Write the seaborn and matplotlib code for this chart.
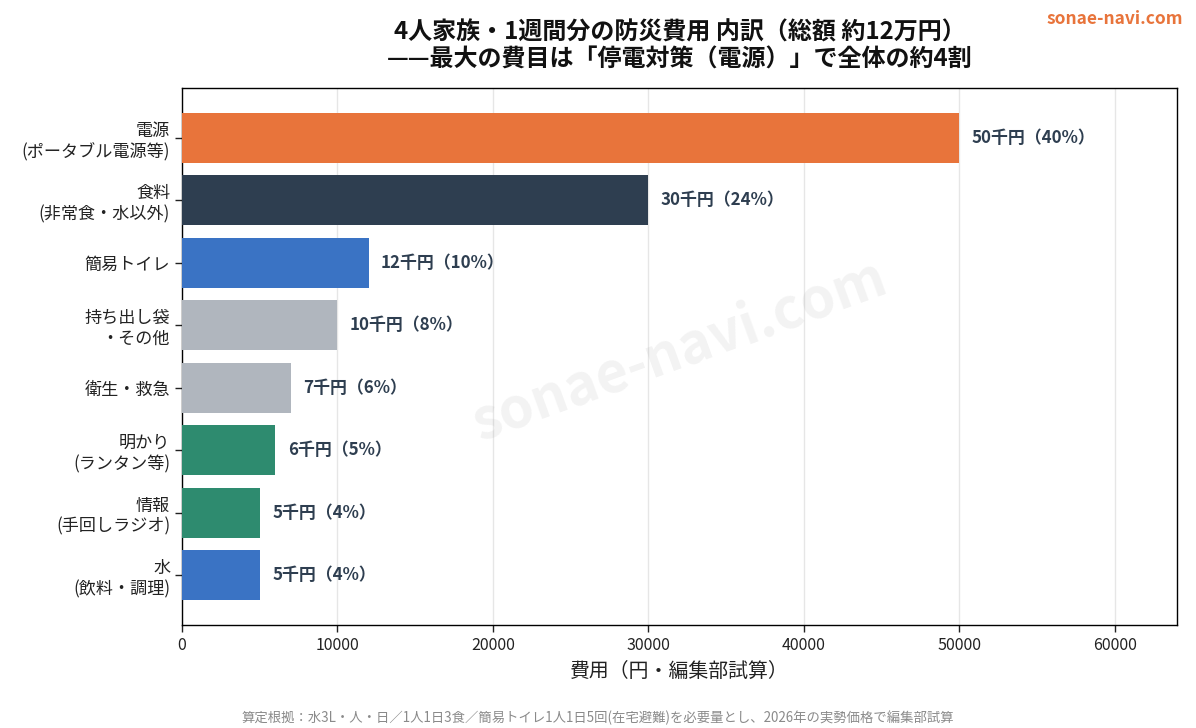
import matplotlib
matplotlib.use("Agg")
import matplotlib.pyplot as plt
import seaborn as sns
import pandas as pd

categories = ["電源\n(ポータブル電源等)", "食料\n(非常食・水以外)", "簡易トイレ", "持ち出し袋\n・その他",
              "衛生・救急", "明かり\n(ランタン等)", "情報\n(手回しラジオ)", "水\n(飲料・調理)"]
values = [50000, 30000, 12000, 10000, 7000, 6000, 5000, 5000]
labels = ["50千円（40%）", "30千円（24%）", "12千円（10%）", "10千円（8%）",
          "7千円（6%）", "6千円（5%）", "5千円（4%）", "5千円（4%）"]
colors = ["#E8743B", "#2E3E50", "#3A73C4", "#B0B6BE", "#B0B6BE", "#2E8B6F", "#2E8B6F", "#3A73C4"]

sns.set_theme(style="white")
plt.rcParams['font.family'] = ['Noto Sans CJK JP', 'DejaVu Sans']

df = pd.DataFrame({"cat": categories, "val": values})

fig = plt.figure(figsize=(11.96, 7.28), dpi=100)
ax = fig.add_axes([182/1196, 1 - 625/728, (1177-182)/1196, (625-88)/728])

sns.barplot(data=df, x="val", y="cat", hue="cat", palette=colors, legend=False,
            width=0.8, ax=ax, saturation=1, zorder=3, linewidth=0)

ax.set_xlim(0, 64000)
ax.set_ylim(7.8, -0.8)
ax.xaxis.grid(True, color="#E6E6E6", linewidth=1, zorder=0)
ax.set_axisbelow(True)
for s in ax.spines.values():
    s.set_color("black")
    s.set_linewidth(1)

ax.tick_params(axis="both", which="both", length=5, width=1, color="black", left=True, bottom=True)
ax.tick_params(axis="y", labelsize=12.3, colors="#222222")
ax.tick_params(axis="x", labelsize=11.5, colors="#222222")
ax.set_ylabel("")
ax.set_xlabel("費用（円・編集部試算）", fontsize=14.3, color="#222222", labelpad=5)

for i, (v, t) in enumerate(zip(values, labels)):
    ax.text(v + 800, i, t, va="center", ha="left", fontsize=12.2, fontweight="bold", color="#2E3E50")

ax.text(0.5, 0.51, "sonae-navi.com", transform=ax.transAxes, rotation=20,
        fontsize=40, fontweight="bold", color="#999999", alpha=0.12,
        ha="center", va="center", zorder=1)

fig.text(680/1196, 1 - 46/728, "4人家族・1週間分の防災費用 内訳（総額 約12万円）\n——最大の費目は「停電対策（電源）」で全体の約4割",
         ha="center", va="center", fontsize=17.3, fontweight="bold", color="#111111", linespacing=1.2)
fig.text(1183/1196, 1 - 19/728, "sonae-navi.com", ha="right", va="center", fontsize=12.5,
         fontweight="bold", color="#E8743B")
fig.text(598/1196, 1 - 718/728, "算定根拠：水3L・人・日／1人1日3食／簡易トイレ1人1日5回(在宅避難)を必要量とし、2026年の実勢価格で編集部試算",
         ha="center", va="center", fontsize=9.6, color="#8A8A8A")

fig.savefig("out.png", dpi=100)
